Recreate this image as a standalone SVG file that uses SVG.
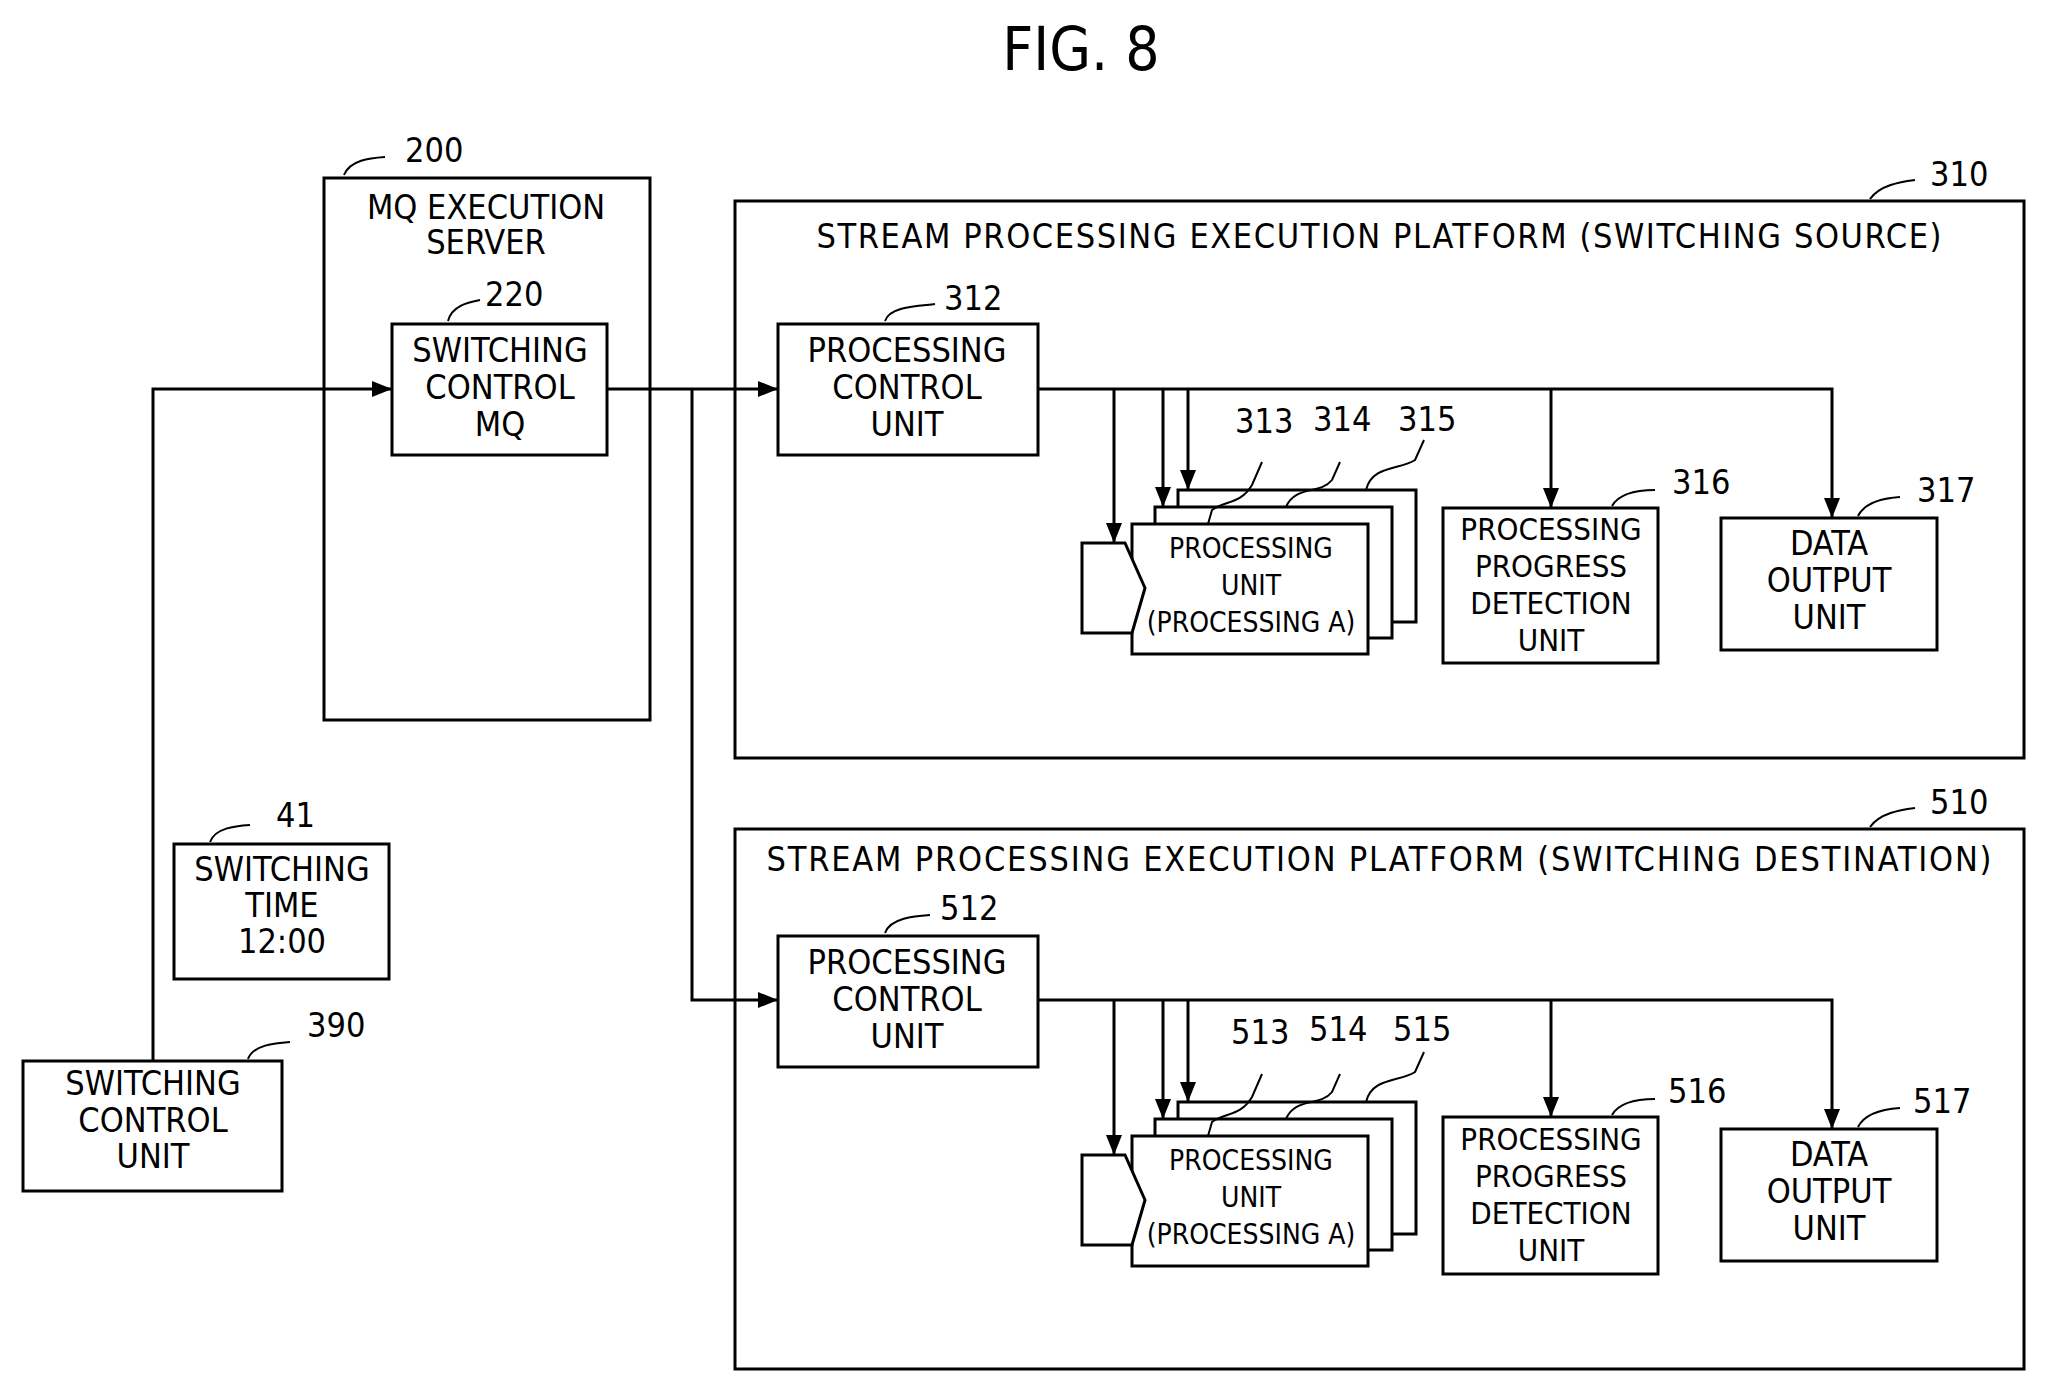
<svg xmlns="http://www.w3.org/2000/svg" width="2047" height="1382" viewBox="0 0 2047 1382">
<style>
rect,.b{fill:#fff;stroke:#000;stroke-width:3}
.l{fill:none;stroke:#000;stroke-width:3}
.q{fill:none;stroke:#000;stroke-width:2}
text{font-family:"DejaVu Sans Condensed","DejaVu Sans",sans-serif;font-size:34px;text-anchor:middle;fill:#000}
.s{font-size:31px}
.p{font-size:28px}
.n{text-anchor:start}
</style>
<defs>
<marker id="ah" markerWidth="22" markerHeight="18" refX="20" refY="9" orient="auto" markerUnits="userSpaceOnUse"><path d="M0,1 L20,9 L0,17 z"/></marker></defs>
<text x="1081" y="70" style="font-size:60px">FIG. 8</text>

<g id="n200"><rect x="324" y="178" width="326" height="542"/><text x="486" y="219">MQ EXECUTION</text><text x="486" y="254">SERVER</text>
<path class="q" d="M344,175 C350,160 370,158 385,157"/><text class="n" x="405" y="162">200</text></g>
<g id="n220"><rect x="392" y="324" width="215" height="131"/><text x="500" y="362">SWITCHING</text><text x="500" y="399">CONTROL</text><text x="500" y="436">MQ</text>
<path class="q" d="M448,321 C452,305 470,302 480,300"/><text class="n" x="485" y="306">220</text></g>

<g id="n310"><rect x="735" y="201" width="1289" height="557"/><text x="1379" y="248" textLength="1125">STREAM PROCESSING EXECUTION PLATFORM (SWITCHING SOURCE)</text>
<path class="q" d="M1870,199 C1880,185 1900,182 1915,180"/><text class="n" x="1930" y="186">310</text></g>
<g id="n510"><rect x="735" y="829" width="1289" height="540"/><text x="1379" y="871" textLength="1225">STREAM PROCESSING EXECUTION PLATFORM (SWITCHING DESTINATION)</text>
<path class="q" d="M1870,827 C1880,813 1900,810 1915,808"/><text class="n" x="1930" y="814">510</text></g>

<g id="n312"><rect x="778" y="324" width="260" height="131"/><text x="907" y="362">PROCESSING</text><text x="907" y="399">CONTROL</text><text x="907" y="436">UNIT</text>
<path class="q" d="M885,321 C890,306 920,306 935,304"/><text class="n" x="944" y="310">312</text></g>
<g id="pu3">
<rect x="1178" y="490" width="238" height="132"/><rect x="1155" y="507" width="237" height="131"/><rect x="1132" y="524" width="236" height="130"/>
<path class="b" d="M1082,543 L1125,543 L1145,588 L1132,633 L1082,633 z"/>
<text class="p" x="1251" y="558">PROCESSING</text><text class="p" x="1251" y="595">UNIT</text><text class="p" x="1251" y="632">(PROCESSING A)</text>
<path class="q" d="M1208,524 L1212,510 C1225,500 1240,505 1252,485 L1262,462"/>
<path class="q" d="M1286,507 C1295,485 1320,495 1332,480 L1340,462"/>
<path class="q" d="M1366,490 C1372,465 1400,470 1415,460 L1424,440"/>
<text class="n" x="1235" y="433">313</text><text class="n" x="1313" y="431">314</text><text class="n" x="1398" y="431">315</text>
</g>
<g id="n316"><rect x="1443" y="508" width="215" height="155"/><text class="s" x="1551" y="540">PROCESSING</text><text class="s" x="1551" y="577">PROGRESS</text><text class="s" x="1551" y="614">DETECTION</text><text class="s" x="1551" y="651">UNIT</text>
<path class="q" d="M1612,506 C1620,492 1640,490 1655,490"/><text class="n" x="1672" y="494">316</text></g>
<g id="n317"><rect x="1721" y="518" width="216" height="132"/><text x="1829" y="555">DATA</text><text x="1829" y="592">OUTPUT</text><text x="1829" y="629">UNIT</text>
<path class="q" d="M1858,516 C1865,502 1885,498 1900,497"/><text class="n" x="1917" y="502">317</text></g>

<g id="n512"><rect x="778" y="936" width="260" height="131"/><text x="907" y="974">PROCESSING</text><text x="907" y="1011">CONTROL</text><text x="907" y="1048">UNIT</text>
<path class="q" d="M885,933 C890,918 915,916 930,915"/><text class="n" x="940" y="920">512</text></g>
<g id="pu5">
<rect x="1178" y="1102" width="238" height="132"/><rect x="1155" y="1119" width="237" height="131"/><rect x="1132" y="1136" width="236" height="130"/>
<path class="b" d="M1082,1155 L1125,1155 L1145,1200 L1132,1245 L1082,1245 z"/>
<text class="p" x="1251" y="1170">PROCESSING</text><text class="p" x="1251" y="1207">UNIT</text><text class="p" x="1251" y="1244">(PROCESSING A)</text>
<path class="q" d="M1208,1136 L1212,1122 C1225,1112 1240,1117 1252,1097 L1262,1074"/>
<path class="q" d="M1286,1119 C1295,1097 1320,1107 1332,1092 L1340,1074"/>
<path class="q" d="M1366,1102 C1372,1077 1400,1082 1415,1072 L1424,1052"/>
<text class="n" x="1231" y="1044">513</text><text class="n" x="1309" y="1041">514</text><text class="n" x="1393" y="1041">515</text>
</g>
<g id="n516"><rect x="1443" y="1117" width="215" height="157"/><text class="s" x="1551" y="1150">PROCESSING</text><text class="s" x="1551" y="1187">PROGRESS</text><text class="s" x="1551" y="1224">DETECTION</text><text class="s" x="1551" y="1261">UNIT</text>
<path class="q" d="M1612,1115 C1620,1101 1640,1099 1655,1099"/><text class="n" x="1668" y="1103">516</text></g>
<g id="n517"><rect x="1721" y="1129" width="216" height="132"/><text x="1829" y="1166">DATA</text><text x="1829" y="1203">OUTPUT</text><text x="1829" y="1240">UNIT</text>
<path class="q" d="M1858,1127 C1865,1113 1885,1109 1900,1108"/><text class="n" x="1913" y="1113">517</text></g>

<g id="n41"><rect x="174" y="844" width="215" height="135"/><text x="282" y="881">SWITCHING</text><text x="282" y="917">TIME</text><text x="282" y="953">12:00</text>
<path class="q" d="M210,842 C215,828 235,826 250,825"/><text class="n" x="276" y="827">41</text></g>
<g id="n390"><rect x="23" y="1061" width="259" height="130"/><text x="153" y="1095">SWITCHING</text><text x="153" y="1132">CONTROL</text><text x="153" y="1168">UNIT</text>
<path class="q" d="M248,1059 C253,1045 275,1043 290,1042"/><text class="n" x="307" y="1037">390</text></g>

<g id="connectors">
<path class="l" marker-end="url(#ah)" d="M153,1061 L153,389 L392,389"/>
<path class="l" marker-end="url(#ah)" d="M607,389 L778,389"/>
<path class="l" marker-end="url(#ah)" d="M692,389 L692,1000 L778,1000"/>
<path class="l" marker-end="url(#ah)" d="M1038,389 L1832,389 L1832,518"/>
<path class="l" marker-end="url(#ah)" d="M1114,389 L1114,543"/>
<path class="l" marker-end="url(#ah)" d="M1163,389 L1163,507"/>
<path class="l" marker-end="url(#ah)" d="M1188,389 L1188,490"/>
<path class="l" marker-end="url(#ah)" d="M1551,389 L1551,508"/>
<path class="l" marker-end="url(#ah)" d="M1038,1000 L1832,1000 L1832,1129"/>
<path class="l" marker-end="url(#ah)" d="M1114,1000 L1114,1155"/>
<path class="l" marker-end="url(#ah)" d="M1163,1000 L1163,1119"/>
<path class="l" marker-end="url(#ah)" d="M1188,1000 L1188,1102"/>
<path class="l" marker-end="url(#ah)" d="M1551,1000 L1551,1117"/>
</g>
</svg>
